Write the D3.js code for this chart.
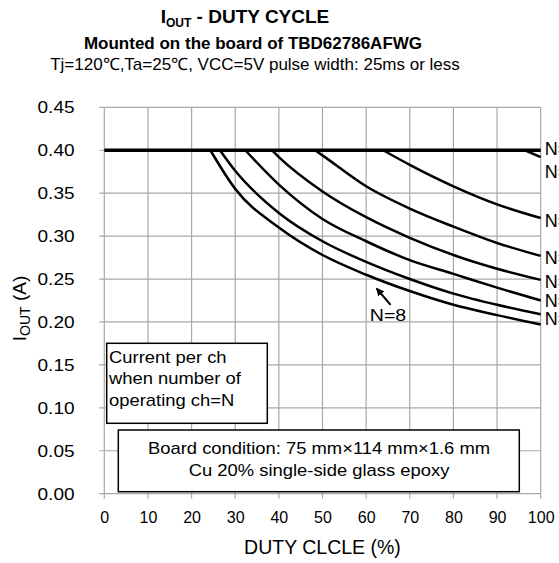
<!DOCTYPE html>
<meta charset="utf-8">
<head>
    <script src="https://d3js.org/d3.v7.min.js"></script>
    <style>
        body { margin: 0; background: #fff; }
        text { font-family: "Liberation Sans", Arial, sans-serif; fill: #000; }
    </style>
</head>
<body>
<div id="my_dataviz"></div>
<script>

    // curves: duty (%) and IOUT (A) for each N
    var dutyN1 = [0, 100],                    ioutN1 = [0.400, 0.400];
    var dutyN2 = [96.4, 100],                 ioutN2 = [0.400, 0.392];
    var dutyN3 = [63.9, 70, 80, 90, 100],     ioutN3 = [0.400, 0.383, 0.358, 0.337, 0.321];
    var dutyN4 = [48.3, 50, 60, 70, 80, 90, 100];
    var ioutN4 = [0.400, 0.394, 0.358, 0.332, 0.311, 0.292, 0.277];
    var dutyN5 = [38.4, 40, 50, 60, 70, 80, 90, 100];
    var ioutN5 = [0.400, 0.392, 0.352, 0.322, 0.298, 0.278, 0.262, 0.249];
    var dutyN6 = [32.3, 40, 50, 60, 70, 80, 90, 100];
    var ioutN6 = [0.400, 0.360, 0.320, 0.294, 0.272, 0.256, 0.240, 0.225];
    var dutyN7 = [26.5, 30, 40, 50, 60, 70, 80, 90, 100];
    var ioutN7 = [0.400, 0.376, 0.327, 0.294, 0.270, 0.250, 0.233, 0.220, 0.209];
    var dutyN8 = [24.3, 30, 40, 50, 60, 70, 80, 90, 100];
    var ioutN8 = [0.400, 0.355, 0.310, 0.278, 0.255, 0.236, 0.220, 0.208, 0.197];

    var seriesNames = ["N=1", "N=2", "N=3", "N=4", "N=5", "N=6", "N=7", "N=8"];
    var seriesDuty = [dutyN1, dutyN2, dutyN3, dutyN4, dutyN5, dutyN6, dutyN7, dutyN8];
    var seriesIout = [ioutN1, ioutN2, ioutN3, ioutN4, ioutN5, ioutN6, ioutN7, ioutN8];

    var xTicks = [0, 10, 20, 30, 40, 50, 60, 70, 80, 90, 100];
    var yTicks = [0, 0.05, 0.10, 0.15, 0.20, 0.25, 0.30, 0.35, 0.40, 0.45];

    var margin = { top: 107.3, right: 18.3, bottom: 69.3, left: 104.3 };
    var W = 559, H = 563;
    var width = W - margin.left - margin.right;
    var height = H - margin.top - margin.bottom;
    var gridColor = "#a8a8a8";
    var stretch = 1.15; // the reference text is drawn a bit wide

    var root = d3.select("#my_dataviz").append("svg")
        .attr("width", W)
        .attr("height", H);

    var svg = root.append("g")
        .attr("transform", "translate(" + margin.left + "," + margin.top + ")");

    var x = d3.scaleLinear().domain([0, 100]).range([0, width]);
    var y = d3.scaleLinear().domain([0, 0.45]).range([height, 0]);

    // wide text helper
    function wideText(sel, px, py, anchor, size, s) {
        return sel.append("text")
            .attr("transform", "translate(" + px + "," + py + ") scale(" + stretch + ",1)")
            .attr("text-anchor", anchor)
            .style("font-size", size + "px")
            .text(s);
    }

    // titles
    var t1 = root.append("text")
        .attr("x", 245).attr("y", 23)
        .attr("text-anchor", "middle")
        .style("font-weight", "bold").style("font-size", "19px");
    t1.append("tspan").text("I");
    t1.append("tspan").attr("dy", 4).style("font-size", "12px").text("OUT");
    t1.append("tspan").attr("dy", -4).text(" - DUTY CYCLE");

    root.append("text")
        .attr("x", 253).attr("y", 49)
        .attr("text-anchor", "middle")
        .style("font-weight", "bold").style("font-size", "17px")
        .text("Mounted on the board of TBD62786AFWG");

    root.append("text")
        .attr("x", 255).attr("y", 70)
        .attr("text-anchor", "middle")
        .style("font-size", "17px")
        .text("Tj=120\u2103,Ta=25\u2103, VCC=5V pulse width: 25ms or less");

    // grid
    svg.append("g")
        .selectAll("line.hg").data(yTicks).enter().append("line")
        .attr("x1", -5).attr("x2", width)
        .attr("y1", function (d) { return y(d); })
        .attr("y2", function (d) { return y(d); })
        .style("stroke", gridColor).style("stroke-width", 1.2);

    svg.append("g")
        .selectAll("line.vg").data(xTicks).enter().append("line")
        .attr("y1", 0).attr("y2", height + 5)
        .attr("x1", function (d) { return x(d); })
        .attr("x2", function (d) { return x(d); })
        .style("stroke", gridColor).style("stroke-width", 1.2);

    // axes labels via d3 axes
    var yAxis = svg.append("g")
        .call(d3.axisLeft(y).tickValues(yTicks).tickSize(0).tickPadding(24).tickFormat(d3.format(".2f")));
    yAxis.select(".domain").remove();
    yAxis.selectAll("text")
        .style("font-family", "'Liberation Sans', Arial, sans-serif")
        .style("font-size", "17px").attr("fill", "#222")
        .attr("transform", function () {
            return "translate(" + (+d3.select(this).attr("x")) * 0.12 + ",0) scale(1.12,1)";
        });

    var xAxis = svg.append("g")
        .attr("transform", "translate(0," + height + ")")
        .call(d3.axisBottom(x).tickValues(xTicks).tickSize(0).tickPadding(18));
    xAxis.select(".domain").remove();
    xAxis.selectAll("text")
        .style("font-family", "'Liberation Sans', Arial, sans-serif")
        .style("font-size", "16px").attr("fill", "#222");

    root.append("text")
        .attr("x", margin.left + width / 2).attr("y", 554)
        .attr("text-anchor", "middle")
        .style("font-size", "19.5px").attr("fill", "#222")
        .text("DUTY CLCLE (%)");

    var yt = root.append("text")
        .attr("transform", "translate(26," + (margin.top + height / 2 + 8) + ") rotate(-90)")
        .attr("text-anchor", "middle")
        .style("font-size", "19px").attr("fill", "#222");
    yt.append("tspan").text("I");
    yt.append("tspan").attr("dy", 4).style("font-size", "14px").text("OUT");
    yt.append("tspan").attr("dy", -4).text(" (A)");

    // curves
    var line = d3.line()
        .x(function (d) { return x(d[0]); })
        .y(function (d) { return y(d[1]); })
        .curve(d3.curveMonotoneX);

    var curves = seriesNames.map(function (name, i) {
        return { name: name, pts: d3.zip(seriesDuty[i], seriesIout[i]) };
    });

    svg.append("g")
        .selectAll("path").data(curves).enter().append("path")
        .attr("d", function (d) { return line(d.pts); })
        .style("fill", "none").style("stroke", "#000")
        .style("stroke-linejoin", "round")
        .style("stroke-width", function (d, i) { return i === 0 ? 3.4 : 2.5; });

    // right-edge labels (N=1..N=7), nudged where they would collide
    var labelNudge = [-2, 14, 2, 2, 2, 0, 4];
    svg.append("g")
        .selectAll("text").data(curves.slice(0, 7)).enter().append("text")
        .attr("x", width + 4)
        .attr("y", function (d, i) { return y(d.pts[d.pts.length - 1][1]) + labelNudge[i]; })
        .attr("dy", "0.36em")
        .style("font-size", "18px")
        .text(function (d) { return d.name; });

    // N=8 arrow
    svg.append("defs").append("marker")
        .attr("id", "ah").attr("viewBox", "0 0 10 10")
        .attr("refX", 9).attr("refY", 5)
        .attr("markerWidth", 4).attr("markerHeight", 4)
        .attr("orient", "auto")
        .append("path").attr("d", "M0,0L10,5L0,10z").attr("fill", "#000");

    svg.append("line")
        .attr("x1", x(65.6)).attr("y1", y(0.220))
        .attr("x2", x(62.4)).attr("y2", y(0.239))
        .style("stroke", "#000").style("stroke-width", 2)
        .attr("marker-end", "url(#ah)");

    wideText(svg, x(65), y(0.208) + 6, "middle", 17, "N=8").attr("fill", "#222");

    // note boxes
    var box1 = root.append("g");
    box1.append("rect")
        .attr("x", 106.7).attr("y", 343.3).attr("width", 160.6).attr("height", 80)
        .style("fill", "#fff").style("stroke", "#000").style("stroke-width", 1.5);
    ["Current per ch", "when number of", "operating ch=N"].forEach(function (s, i) {
        wideText(box1, 109, 362.5 + i * 21.7, "start", 16, s);
    });

    var box2 = root.append("g");
    box2.append("rect")
        .attr("x", 118.3).attr("y", 430).attr("width", 401).attr("height", 61.7)
        .style("fill", "#fff").style("stroke", "#000").style("stroke-width", 1.5);
    ["Board condition: 75 mm\u00d7114 mm\u00d71.6 mm", "Cu 20% single-side glass epoxy"].forEach(function (s, i) {
        wideText(box2, 319, 454 + i * 21.7, "middle", 16, s);
    });

</script>
</body>
